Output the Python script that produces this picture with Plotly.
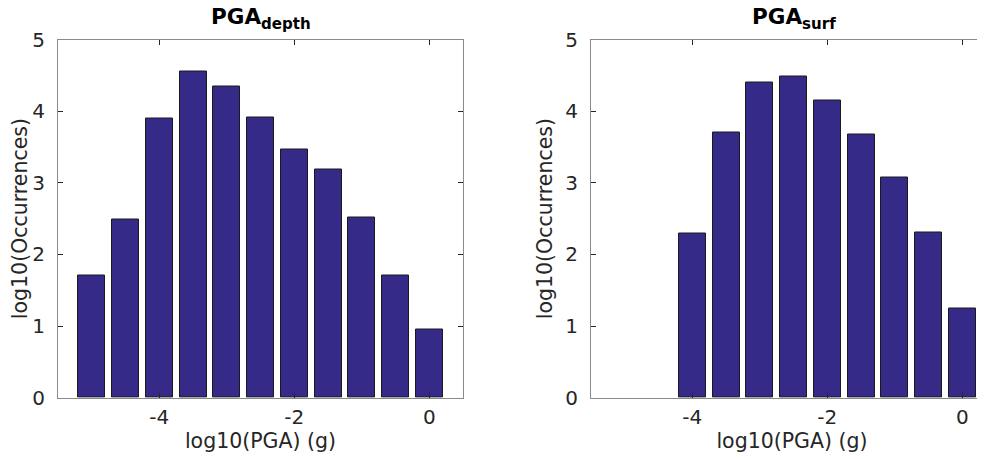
import plotly.graph_objects as go

# Bin centres (log10 PGA)
bin_centers = [-5.0, -4.5, -4.0, -3.5, -3.0, -2.5, -2.0, -1.5, -1.0, -0.5, 0.0]
# log10(occurrences)
depth_vals = [1.70, 2.485, 3.90, 4.56, 4.34, 3.91, 3.46, 3.19, 2.51, 1.71, 0.95]
surf_vals = [None, None, 2.29, 3.70, 4.40, 4.48, 4.15, 3.67, 3.07, 2.30, 1.25]

x_tickvals = [-4, -2, 0]
x_ticktext = ["-4", "-2", "0"]
y_tickvals = [0, 1, 2, 3, 4, 5]

titles = ["<b>PGA<sub>depth</sub></b>", "<b>PGA<sub>surf</sub></b>"]
xlabel = "log10(PGA) (g)"
ylabel = "log10(Occurrences)"

BAR = "#352a87"
TXT = "#262626"
LINE = "#8a8a8a"
FONT = "DejaVu Sans"

W, H = 985, 459
fig = go.Figure()
fig.add_trace(go.Bar(x=bin_centers, y=depth_vals, width=0.4,
                     marker=dict(color=BAR, line=dict(color="#1a1a1a", width=1)),
                     xaxis="x", yaxis="y", showlegend=False))
fig.add_trace(go.Bar(x=bin_centers, y=surf_vals, width=0.4,
                     marker=dict(color=BAR, line=dict(color="#1a1a1a", width=1)),
                     xaxis="x2", yaxis="y2", showlegend=False))

ydom = [1 - 389.7 / H, 1 - 31.5 / H]
common_x = dict(tickvals=x_tickvals, ticktext=x_ticktext, ticks="inside", ticklen=5,
                tickcolor=TXT, tickwidth=1, showline=True, linecolor=LINE, linewidth=1.2,
                showgrid=False, zeroline=False, tickfont=dict(size=20, color=TXT, family=FONT),
                title=dict(text=xlabel, font=dict(size=20.5, color=TXT, family=FONT), standoff=2),
                ticklabelstandoff=1)
common_y = dict(tickvals=y_tickvals, range=[0, 5], ticks="inside", ticklen=5,
                tickcolor=TXT, tickwidth=1, showline=True, linecolor=LINE, linewidth=1.2,
                showgrid=False, zeroline=False, tickfont=dict(size=20, color=TXT, family=FONT),
                title=dict(text=ylabel, font=dict(size=20.5, color=TXT, family=FONT), standoff=6),
                ticklabelstandoff=8)

fig.update_layout(
    width=W, height=H,
    margin=dict(l=0, r=0, t=0, b=0, autoexpand=False),
    paper_bgcolor="white", plot_bgcolor="white",
    font=dict(family=FONT, color=TXT),
    bargap=0,
    xaxis=dict(domain=[50 / W, 455 / W], range=[-5.5, 0.5], mirror="ticks", anchor="y", **common_x),
    yaxis=dict(domain=ydom, mirror="ticks", anchor="x", **common_y),
    xaxis2=dict(domain=[583 / W, 1.0], range=[-5.5, 0.4556], mirror="ticks", anchor="y2", **common_x),
    yaxis2=dict(domain=ydom, mirror="ticks", anchor="x2", **common_y),
    annotations=[
        dict(text=titles[0], x=252.5 / W, y=1 - 10.5 / H, xref="paper", yref="paper",
             showarrow=False, font=dict(size=21.5, color="black", family=FONT),
             xanchor="center", yanchor="middle", borderpad=0),
        dict(text=titles[1], x=786 / W, y=1 - 10.5 / H, xref="paper", yref="paper",
             showarrow=False, font=dict(size=21.5, color="black", family=FONT),
             xanchor="center", yanchor="middle", borderpad=0),
    ],
)
fig.update_xaxes(automargin=False)
fig.update_yaxes(automargin=False)

fig.write_html("out.html")
